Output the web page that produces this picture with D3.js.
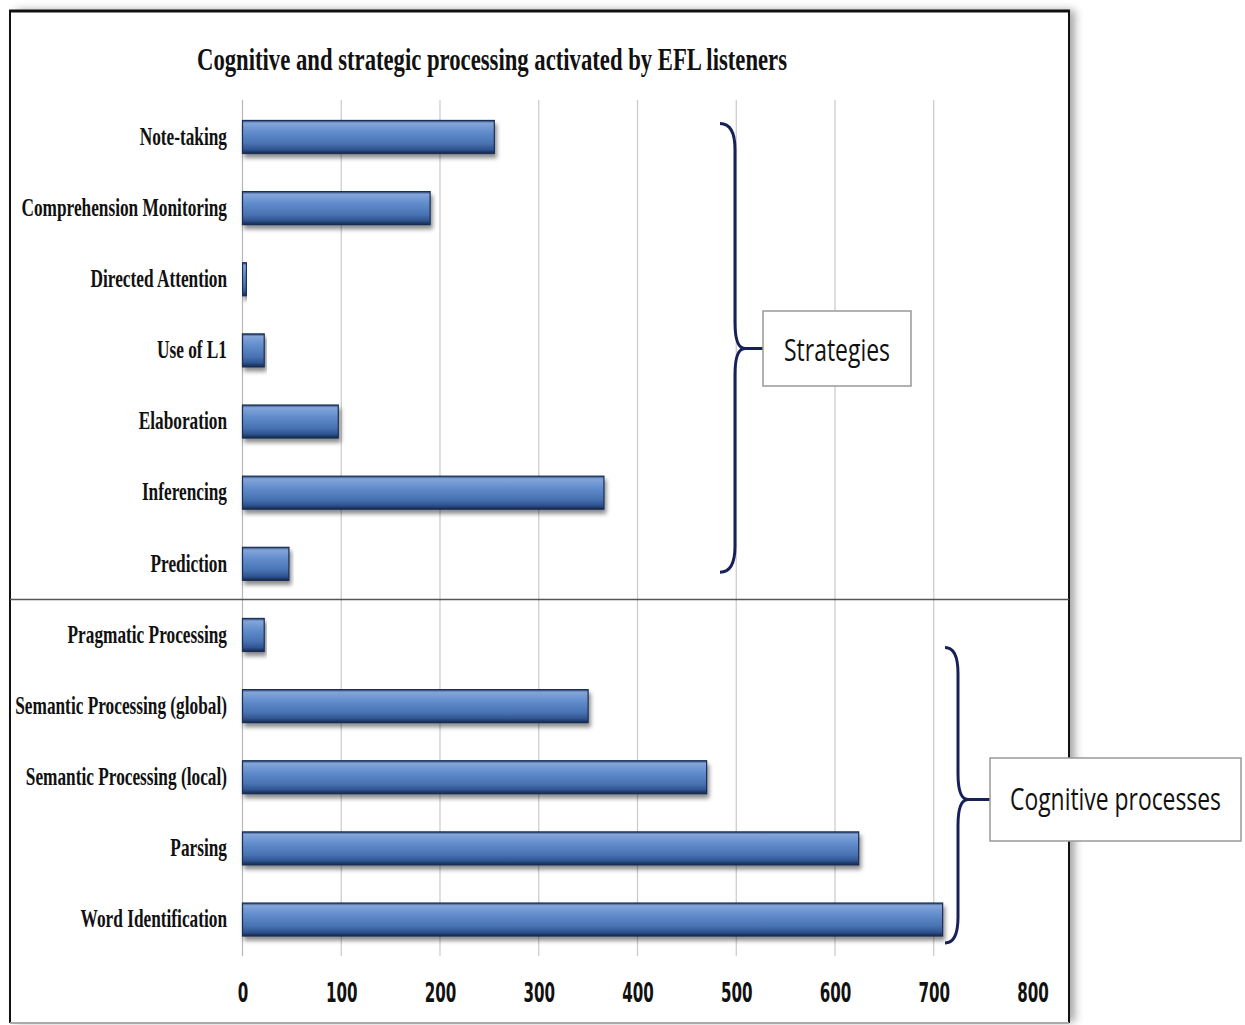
<!DOCTYPE html>
<html><head><meta charset="utf-8">
<script src="https://cdn.jsdelivr.net/npm/d3@7"></script>
<style>body{margin:0;background:#fff;} svg{display:block;}</style>
</head><body>
<script>
const title = "Cognitive and strategic processing activated by EFL listeners";
const categories = ["Note-taking","Comprehension Monitoring","Directed Attention","Use of L1","Elaboration","Inferencing","Prediction","Pragmatic Processing","Semantic Processing (global)","Semantic Processing (local)","Parsing","Word Identification"];
const values = [255,190,4,22,97,366,47,22,350,470,624,709];
const xTicks = [0,100,200,300,400,500,600,700,800];
const groups = [
  {label:"Strategies", from:"Note-taking", to:"Prediction"},
  {label:"Cognitive processes", from:"Pragmatic Processing", to:"Word Identification"}
];

const W=1245,H=1025;
const svg=d3.select("body").append("svg").attr("width",W).attr("height",H);
const defs=svg.append("defs");
const grad=defs.append("linearGradient").attr("id","barg").attr("x1",0).attr("y1",0).attr("x2",0).attr("y2",1);
[[0,"#2b4a7c"],[0.08,"#84a5d8"],[0.35,"#628dcd"],[0.7,"#4872b2"],[0.88,"#2f5490"],[1,"#15284a"]].forEach(s=>grad.append("stop").attr("offset",s[0]).attr("stop-color",s[1]));
const sh=defs.append("filter").attr("id","bshadow").attr("x","-5%").attr("y","-20%").attr("width","115%").attr("height","160%");
sh.append("feDropShadow").attr("dx",2).attr("dy",4).attr("stdDeviation",2).attr("flood-color","#000").attr("flood-opacity",0.45);
const fsh=defs.append("filter").attr("id","fshadow").attr("x","-5%").attr("y","-5%").attr("width","115%").attr("height","115%");
fsh.append("feDropShadow").attr("dx",6).attr("dy",0).attr("stdDeviation",4).attr("flood-color","#000").attr("flood-opacity",0.35);

// frame
svg.append("rect").attr("x",10).attr("y",10).attr("width",1059).attr("height",1012)
  .attr("fill","#fff").attr("stroke","none").attr("filter","url(#fshadow)");
svg.append("line").attr("x1",10).attr("x2",10).attr("y1",10).attr("y2",1023).attr("stroke","#111").attr("stroke-width",2);
svg.append("line").attr("x1",1069).attr("x2",1069).attr("y1",10).attr("y2",1023).attr("stroke","#111").attr("stroke-width",2);
svg.append("line").attr("x1",9).attr("x2",1070).attr("y1",11).attr("y2",11).attr("stroke","#111").attr("stroke-width",3);
svg.append("line").attr("x1",10).attr("x2",1069).attr("y1",1023).attr("y2",1023).attr("stroke","#aaa").attr("stroke-width",2);

const x=d3.scaleLinear().domain([0,800]).range([242.5,1032.5]);
const y=d3.scaleBand().domain(categories).range([101.4,955.1]).paddingInner(0.536).paddingOuter(0.268);

// gridlines
svg.append("g").selectAll("line").data(xTicks.filter(t=>t<800)).join("line")
  .attr("x1",d=>x(d)).attr("x2",d=>x(d)).attr("y1",100).attr("y2",956)
  .attr("stroke",d=>d===0?"#b8b8b8":"#c9c9c9").attr("stroke-width",1.2);

// divider
const divY=(y("Prediction")+y.bandwidth()+y("Pragmatic Processing"))/2;
svg.append("line").attr("x1",10).attr("x2",1069).attr("y1",divY).attr("y2",divY).attr("stroke","#555").attr("stroke-width",1.5);

// title
svg.append("text").attr("x",492).attr("y",70).attr("text-anchor","middle")
  .attr("font-family","Liberation Serif, Times New Roman, serif").attr("font-weight","bold").attr("font-size",31)
  .attr("textLength",590).attr("lengthAdjust","spacingAndGlyphs").attr("fill","#111").text(title);

// bars
svg.append("g").selectAll("rect").data(categories).join("rect")
  .attr("x",x(0)).attr("y",d=>y(d)).attr("width",(d,i)=>Math.max(1,x(values[i])-x(0))).attr("height",y.bandwidth())
  .attr("fill","url(#barg)").attr("stroke","#1a2d52").attr("stroke-width",1.2).attr("filter","url(#bshadow)");

// category labels
const yAxis=d3.axisLeft(y).tickSize(0).tickPadding(0);
const ya=svg.append("g").attr("transform","translate(227,0)").call(yAxis);
ya.select(".domain").remove();
ya.selectAll("text").attr("x",0).attr("dy","0.3em")
  .attr("font-family","Liberation Serif, Times New Roman, serif").attr("font-weight","bold").attr("font-size",26)
  .attr("fill","#111").attr("transform","scale(0.665,1)");

// x tick labels
const xAxis=d3.axisBottom(x).tickValues(xTicks).tickSize(0).tickPadding(0).tickFormat(d3.format("d"));
const xa=svg.append("g").attr("transform","translate(0,1002)").call(xAxis);
xa.select(".domain").remove();
xa.selectAll("text").attr("y",0).attr("dy",0)
  .attr("font-family","DejaVu Sans, sans-serif").attr("font-weight","bold").attr("font-size",27)
  .attr("fill","#111").attr("transform","scale(0.56,1)");

// braces + boxes
function brace(xe,xv,xt,y0,y1,ym,r){
  const p=d3.path();
  p.moveTo(xe,y0);
  p.quadraticCurveTo(xv,y0,xv,y0+r);
  p.lineTo(xv,ym-r);
  p.quadraticCurveTo(xv,ym,xt,ym);
  p.quadraticCurveTo(xv,ym,xv,ym+r);
  p.lineTo(xv,y1-r);
  p.quadraticCurveTo(xv,y1,xe,y1);
  return p.toString();
}
const boxes=[
  {bx:763,bw:148,by:311,bh:75,xe:720,xv:735,fs:31,tl:106,top:3,bot:-8,ty:12},
  {bx:990,bw:251,by:758,bh:83,xe:945,xv:958,fs:31,tl:211,top:29,bot:7,ty:10}
];
groups.forEach((g,i)=>{
  const b=boxes[i];
  const y0=y(g.from)+b.top, y1=y(g.to)+y.bandwidth()+b.bot;
  const ym=b.by+b.bh/2;
  svg.append("path").attr("d",brace(b.xe,b.xv,b.xv+10,y0,y1,ym,26)).attr("fill","none").attr("stroke","#16215a").attr("stroke-width",3);
  svg.append("line").attr("x1",b.xv+8).attr("x2",b.bx).attr("y1",ym).attr("y2",ym).attr("stroke","#16215a").attr("stroke-width",3);
  svg.append("rect").attr("x",b.bx).attr("y",b.by).attr("width",b.bw).attr("height",b.bh).attr("fill","#fff").attr("stroke","#999").attr("stroke-width",1.5);
  const gt=svg.append("g").attr("transform",`translate(${b.bx+b.bw/2},${ym+b.ty})`);
  const t=gt.append("text").attr("x",0).attr("y",0).attr("text-anchor","middle")
    .attr("font-family","Open Sans, Lato, sans-serif").attr("font-size",b.fs).attr("fill","#111").text(g.label);
  const nat=t.node().getComputedTextLength();
  t.attr("transform",`scale(${b.tl/nat},1)`);
});
</script>
</body></html>
